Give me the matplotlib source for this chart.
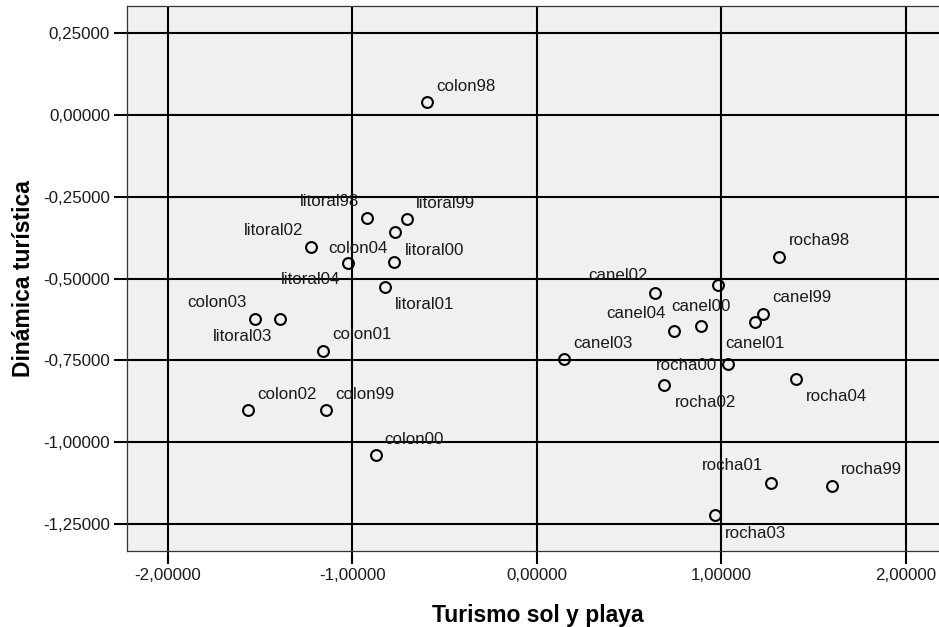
import matplotlib
matplotlib.use("Agg")
import matplotlib.pyplot as plt
from matplotlib.ticker import FuncFormatter

# puntuaciones factoriales por localidad y año
etiquetas = ["colon98", "litoral98", "litoral99", "colon04", "litoral02", "litoral04",
             "litoral00", "litoral01", "colon03", "litoral03", "colon01", "colon02",
             "colon99", "colon00",
             "rocha98", "canel98", "canel02", "canel99", "canel01", "canel00", "canel04",
             "canel03", "rocha00", "rocha04", "rocha02", "rocha01", "rocha99", "rocha03"]
sol_playa = [-0.596, -0.919, -0.706, -0.767, -1.224, -1.024,
             -0.773, -0.823, -1.528, -1.391, -1.158, -1.564,
             -1.141, -0.874,
             1.314, 0.983, 0.642, 1.225, 1.182, 0.889, 0.743,
             0.149, 1.034, 1.406, 0.691, 1.269, 1.598, 0.967]
dinamica = [0.038, -0.316, -0.319, -0.357, -0.404, -0.452,
            -0.451, -0.525, -0.624, -0.625, -0.721, -0.902,
            -0.902, -1.039,
            -0.433, -0.519, -0.544, -0.608, -0.633, -0.644, -0.660,
            -0.746, -0.762, -0.806, -0.824, -1.124, -1.132, -1.222]
# donde va cada rótulo respecto al punto (canel98 queda sin rótulo)
posicion = ["tr", "tl", "tr", "bl", "tl", "bl",
            "tr2", "br", "tl", "bl", "tr", "tr",
            "tr", "tr",
            "tr", None, "tl", "tr", "bc", "tc", "tl",
            "tr", "l", "br", "br", "tl", "tr", "br"]

xticks = [-2, -1, 0, 1, 2]
yticks = [0.25, 0, -0.25, -0.5, -0.75, -1.0, -1.25]

# desplazamientos en pixeles (dx, dy hacia abajo, alineación)
desp = {"tr": (9, -16, "left"), "tr2": (11, -12, "left"), "tl": (-8, -17, "right"),
        "br": (10, 18, "left"), "bl": (-8, 17, "right"), "tc": (0, -19, "center"),
        "bc": (0, 21, "center"), "l": (-11, 1, "right")}

plt.rcParams["font.family"] = ["Liberation Sans", "DejaVu Sans"]

fig = plt.figure(figsize=(9.39, 6.27), dpi=100)
ax = fig.add_axes([0.1356, 0.1212, 1.0 - 0.1356, 0.9909 - 0.1212])
ax.set_facecolor("#f0f0f0")

ax.set_xlim(-2.220, 2.179)
ax.set_ylim(-1.3318, 0.3327)

for v in xticks:
    ax.axvline(v, color="black", lw=1.5, zorder=1)
for v in yticks:
    ax.axhline(v, color="black", lw=1.5, zorder=1)

ax.plot(sol_playa, dinamica, "o", ms=7.8, mfc="none", mec="black", mew=1.5, zorder=3)

px = 0.72
for lab, x, y, p in zip(etiquetas, sol_playa, dinamica, posicion):
    if p is None:
        continue
    dx, dy, ha = desp[p]
    ax.annotate(lab, (x, y), xytext=(dx * px, -dy * px), textcoords="offset points",
                ha=ha, va="center", fontsize=12.2, color="#1a1a1a", zorder=4)

fmt = FuncFormatter(lambda v, pos: f"{v:.5f}".replace(".", ","))
ax.set_xticks(xticks)
ax.set_yticks(yticks)
ax.xaxis.set_major_formatter(fmt)
ax.yaxis.set_major_formatter(fmt)
ax.tick_params(axis="both", direction="out", length=9.4, width=1.5, labelsize=12.2,
               color="black", labelcolor="#1a1a1a")
ax.tick_params(axis="x", pad=3)
ax.tick_params(axis="y", pad=3)

for s in ["left", "top", "bottom"]:
    ax.spines[s].set_color("#333333")
    ax.spines[s].set_linewidth(0.9)
ax.spines["right"].set_visible(False)

ax.set_xlabel("Turismo sol y playa", fontsize=16.5, fontweight="bold")
ax.set_ylabel("Dinámica turística", fontsize=16.5, fontweight="bold", labelpad=6)
ax.xaxis.set_label_coords(0.506, -0.097)

fig.savefig("out.png", dpi=100)
